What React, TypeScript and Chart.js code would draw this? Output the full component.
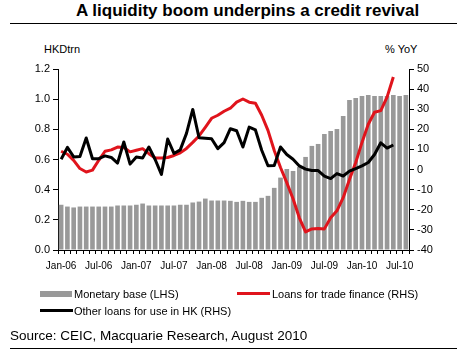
import React, { useEffect, useRef } from 'react';
import { Chart, registerables } from 'chart.js';

Chart.register(...registerables);

const FONT = '"Liberation Sans", Arial, Helvetica, sans-serif';

const categories = [
  'Jan-06', 'Feb-06', 'Mar-06', 'Apr-06', 'May-06', 'Jun-06', 'Jul-06', 'Aug-06', 'Sep-06', 'Oct-06', 'Nov-06', 'Dec-06',
  'Jan-07', 'Feb-07', 'Mar-07', 'Apr-07', 'May-07', 'Jun-07', 'Jul-07', 'Aug-07', 'Sep-07', 'Oct-07', 'Nov-07', 'Dec-07',
  'Jan-08', 'Feb-08', 'Mar-08', 'Apr-08', 'May-08', 'Jun-08', 'Jul-08', 'Aug-08', 'Sep-08', 'Oct-08', 'Nov-08', 'Dec-08',
  'Jan-09', 'Feb-09', 'Mar-09', 'Apr-09', 'May-09', 'Jun-09', 'Jul-09', 'Aug-09', 'Sep-09', 'Oct-09', 'Nov-09', 'Dec-09',
  'Jan-10', 'Feb-10', 'Mar-10', 'Apr-10', 'May-10', 'Jun-10', 'Jul-10', 'Aug-10',
];

// HKD trn (LHS)
const monetaryBase = [
  0.30, 0.288, 0.282, 0.288, 0.288, 0.288, 0.288, 0.288, 0.288, 0.295,
  0.295, 0.295, 0.30, 0.308, 0.295, 0.295, 0.295, 0.295, 0.295, 0.30,
  0.30, 0.315, 0.321, 0.341, 0.328, 0.328, 0.328, 0.326, 0.319, 0.326,
  0.319, 0.319, 0.346, 0.359, 0.412, 0.48, 0.537, 0.524, 0.55, 0.617,
  0.69, 0.703, 0.769, 0.789, 0.802, 0.888, 0.995, 1.008, 1.021, 1.028,
  1.021, 1.021, 1.021, 1.028, 1.021, 1.028,
];

// % YoY (RHS)
const tradeFinance = [
  9.1, 7.6, 4.6, 0.5, -1.2, -0.3, 4.6, 9.1, 9.8, 11.2,
  11, 8.8, 9.6, 10.4, 7.9, 5.8, 5.8, 6, 7, 8.3,
  10.5, 13.5, 16.7, 21, 25.5, 27, 29, 30.5, 33.5, 35.1,
  33.5, 33, 27, 19.5, 9.5, 1, -6.5, -14.5, -24, -31,
  -29.5, -29.3, -29.5, -24, -20.5, -14, -5, 3.5, 13.5, 22.5,
  28.5, 29.3, 36, 46,
];

// % YoY (RHS)
const otherLoans = [
  5.1, 11, 6.3, 6.5, 15.7, 5.4, 5.4, 6.8, 6.0, 3.2,
  13.7, 2.7, 6.2, 5.8, 11.2, 5.0, -2.4, 15.2, 8.0, 9.8,
  18, 29.9, 15.8, 15.6, 15.3, 10.4, 13.4, 20.3, 19.3, 11.2,
  21.1, 19.7, 9.6, 1.9, 2.0, 11.2, 7.5, 5.1, 1.8, 0.2,
  -0.5, -0.5, -3.3, -4.5, -2, -3.2, -0.8, 0.5, 1.8, 3.5,
  7.5, 13.3, 10.7, 12.2,
];

const RED = '#e0141c';
const GREY = '#999999';

const txt = (fs: number, extra: React.CSSProperties = {}): React.CSSProperties => ({
  position: 'absolute',
  fontFamily: FONT,
  fontSize: fs,
  lineHeight: `${fs}px`,
  whiteSpace: 'nowrap',
  color: '#000',
  ...extra,
});

export default function App() {
  const ref = useRef<HTMLCanvasElement | null>(null);

  useEffect(() => {
    if (!ref.current) return;
    const chart = new Chart(ref.current, {
      type: 'bar',
      data: {
        labels: categories,
        datasets: [
          {
            type: 'line',
            label: 'Other loans for use in HK (RHS)',
            data: otherLoans,
            yAxisID: 'y1',
            borderColor: '#000000',
            backgroundColor: '#000000',
            borderWidth: 3,
            pointRadius: 0,
            tension: 0,
            borderJoinStyle: 'round',
            order: 1,
          } as any,
          {
            type: 'line',
            label: 'Loans for trade finance (RHS)',
            data: tradeFinance,
            yAxisID: 'y1',
            borderColor: RED,
            backgroundColor: RED,
            borderWidth: 3,
            pointRadius: 0,
            tension: 0,
            borderJoinStyle: 'round',
            order: 2,
          } as any,
          {
            type: 'bar',
            label: 'Monetary base (LHS)',
            data: monetaryBase,
            yAxisID: 'y',
            backgroundColor: GREY,
            borderWidth: 0,
            barPercentage: 0.74,
            categoryPercentage: 1,
            order: 3,
          } as any,
        ],
      },
      options: {
        responsive: false,
        animation: false,
        devicePixelRatio: 1,
        layout: { padding: { top: 69, left: 0, right: 0, bottom: 0 } },
        plugins: {
          legend: { display: false },
          tooltip: { enabled: false },
          title: { display: false },
        },
        scales: {
          x: {
            type: 'category',
            offset: true,
            grid: {
              display: true,
              drawOnChartArea: false,
              drawTicks: true,
              tickLength: 4,
              color: '#000',
              offset: true,
            },
            border: { display: true, color: '#000', width: 1 },
            ticks: {
              autoSkip: false,
              maxRotation: 0,
              minRotation: 0,
              padding: 6,
              color: '#000',
              font: { family: FONT, size: 10 },
              callback: (_v: any, i: number) => (i % 6 === 0 ? categories[i] : ''),
            },
            afterFit: (s: any) => {
              s.height = 105;
            },
          },
          y: {
            position: 'left',
            min: 0,
            max: 1.2,
            grid: { drawOnChartArea: false, tickLength: 5, color: '#000' },
            border: { display: true, color: '#000', width: 1 },
            ticks: {
              stepSize: 0.2,
              padding: 3,
              color: '#000',
              font: { family: FONT, size: 11 },
              callback: (v: any) => Number(v).toFixed(1),
            },
            afterFit: (s: any) => {
              s.width = 58;
            },
          },
          y1: {
            position: 'right',
            min: -40,
            max: 50,
            grid: { drawOnChartArea: false, tickLength: 5, color: '#000' },
            border: { display: true, color: '#000', width: 1 },
            ticks: {
              stepSize: 10,
              padding: 3,
              color: '#000',
              font: { family: FONT, size: 11 },
              callback: (v: any) => String(Math.round(Number(v))),
            },
            afterFit: (s: any) => {
              s.width = 58;
            },
          },
        },
      } as any,
    });
    return () => chart.destroy();
  }, []);

  return (
    <div style={{ position: 'absolute', left: 0, top: 0, width: 467, height: 355, background: '#fff', overflow: 'hidden' }}>
      <div style={txt(17, { left: 76, top: 2, fontWeight: 'bold' })}>A liquidity boom underpins a credit revival</div>
      <div style={{ position: 'absolute', left: 10, top: 23, width: 447, height: 1, background: '#000' }} />
      <div style={txt(11, { left: 44, top: 44 })}>HKDtrn</div>
      <div style={txt(11, { left: 385, top: 44 })}>% YoY</div>
      <canvas ref={ref} width={467} height={355} style={{ position: 'absolute', left: 0, top: 0, width: 467, height: 355, display: 'block' }} />
      <div style={{ position: 'absolute', left: 40, top: 291, width: 32, height: 6, background: GREY }} />
      <div style={txt(11, { left: 74, top: 289 })}>Monetary base (LHS)</div>
      <div style={{ position: 'absolute', left: 237, top: 292, width: 33, height: 3, background: RED }} />
      <div style={txt(11, { left: 272, top: 289 })}>Loans for trade finance (RHS)</div>
      <div style={{ position: 'absolute', left: 40, top: 309, width: 33, height: 3, background: '#000' }} />
      <div style={txt(11, { left: 74, top: 306 })}>Other loans for use in HK (RHS)</div>
      <div style={txt(13.5, { left: 10, top: 328.5 })}>Source: CEIC, Macquarie Research, August 2010</div>
      <div style={{ position: 'absolute', left: 10, top: 348, width: 447, height: 1, background: '#000' }} />
    </div>
  );
}
